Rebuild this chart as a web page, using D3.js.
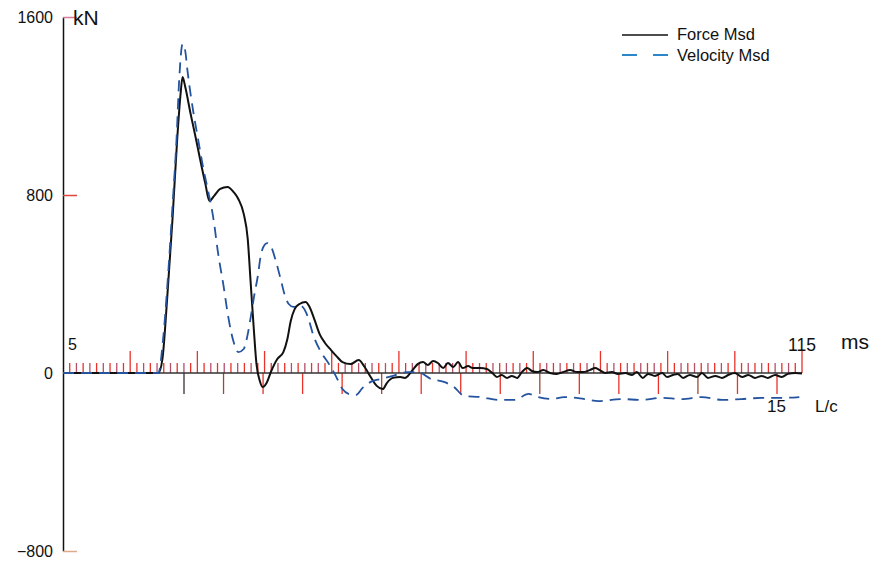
<!DOCTYPE html>
<html>
<head>
<meta charset="utf-8">
<script src="https://cdn.jsdelivr.net/npm/d3@7"></script>
<style>
  body { margin: 0; background: #fff; }
  text { font-family: Arial, "Liberation Sans", sans-serif; fill: #111; }
</style>
</head>
<body>
<svg width="888" height="566"></svg>
<script>
// time (ms) and measured force (kN)
const forceTime = [5, 12, 19.2, 19.8, 20.5, 21.3, 22.0, 22.5, 22.8, 23.2, 24.0, 24.7, 25.4, 26.2, 26.8, 27.5, 28.4, 29.5, 30.4, 31.1, 31.9, 32.5, 32.9, 33.4, 33.8, 34.3, 34.7, 35.3, 36.0, 36.9, 37.8, 38.4, 38.9, 39.5, 40.2, 41.1, 41.7, 42.5, 43.2, 44.0, 44.9, 45.7, 46.6, 47.8, 49.0, 49.9, 50.8, 51.7, 52.6,
  53.2, 54.1, 55.2, 55.9, 56.7, 57.4, 57.8, 58.6, 59.3, 60.1, 60.8, 61.6, 62.3, 63.1, 63.8, 64.5, 65.3, 66.0, 67.1, 68.1, 68.9, 69.6, 70.3, 71.1, 71.8, 72.6, 73.3, 74.1, 74.8, 75.6, 76.5, 77.5, 78.5, 79.4, 80.5, 81.5, 82.4, 83.4, 84.2, 84.9, 85.7, 86.7, 87.6, 88.7, 89.7, 90.4, 91.3, 92.1, 93.1, 94.2, 94.9, 95.8, 96.5, 97.3, 98.3, 99.4, 100.1, 101.0, 102.1, 103.1, 104.0, 105.0, 106.1, 107.0, 108.0, 109.0, 109.9, 111.0, 112.0, 112.9, 114.0, 115];
const forceMsd = [0, 0, 0, 63, 333, 692, 1052, 1254, 1330, 1285, 1164, 1065, 962, 849, 773, 796, 827, 836, 813, 782, 715, 602, 422, 198, 40, -36, -63, -45, 9, 63, 94, 153, 234, 288, 310, 319, 297, 234, 175, 135, 103, 76, 49, 40, 58, 27, -18, -58, -72,
  -45, -22, -18, -22, 0, 27, 40, 49, 36, 54, 45, 22, 45, 27, 49, 22, 31, 22, 22, 18, 0, -18, -9, -22, -13, -22, 4, 22, 9, 4, 13, 0, -4, 4, 13, 4, 4, 13, 22, 13, 0, 4, -4, 0, -9, 4, -22, -4, -13, 0, -18, -9, -4, -22, -9, -18, 0, -22, -13, -22, -9, 0, -18, -9, -22, -13, -22, -9, -18, -4, 0, -2];

// time (ms) and measured velocity (scaled to kN)
const velTime = [5, 12, 19.2, 19.9, 20.7, 21.3, 21.9, 22.3, 22.8, 23.2, 23.5, 24.4, 25.1, 25.9, 26.6, 27.4, 28.1, 28.9, 29.6, 30.4, 31.1, 31.9, 32.5, 32.9, 33.5, 34.0, 34.4, 34.9, 35.4, 36.0, 36.6, 37.4, 38.0, 38.6, 39.3, 40.4, 41.4, 42.3, 43.4, 44.6, 45.6, 46.6, 47.5, 48.6, 49.6, 50.8, 52.3, 54.1, 56.3, 57.8, 59.8, 61.7, 63.2, 64.7, 67.2, 69.8, 72.2, 74.3, 75.7, 77.7, 79.6, 82.6, 84.7, 88.1, 91.1, 94.1, 97.1, 100.1, 103.1, 106.0, 109.0, 112.0, 114.6];
const velocityMsd = [0, 0, 0, 153, 467, 751, 1052, 1321, 1479, 1447, 1366, 1173, 1052, 917, 818, 692, 535, 391, 252, 139, 94, 108, 175, 243, 355, 436, 521, 571, 584, 566, 512, 422, 351, 310, 297, 301, 256, 166, 94, 40, -13, -72, -94, -99, -67, -40, -27, -13, 4, 4, -27, -40, -63, -103, -108, -121, -121, -94, -108, -117, -108, -117, -126, -117, -121, -112, -117, -108, -121, -117, -112, -112, -108];

const yTicks = [1600, 800, 0, -800];
const yTickColors = ["#d67a9a", "#e0443a", null, "#e0aa88"];
const timeDomain = [5, 115];
const lcDomain = [0, 15];

const svg = d3.select("svg");

const x = d3.scaleLinear().domain(timeDomain).range([63, 802]);
const y = d3.scaleLinear().domain([-800, 1600]).range([551, 17]);
const lc = d3.scaleLinear().domain(lcDomain).range([184, 777]);

// y axis
const yAxis = svg.append("g")
  .attr("transform", `translate(${x(5)},0)`)
  .call(d3.axisLeft(y).tickValues(yTicks).tickSizeInner(-14).tickSizeOuter(0).tickPadding(10).tickFormat(d3.format("d")));
yAxis.select(".domain").attr("stroke", "#111").attr("stroke-width", 1.5);
yAxis.selectAll(".tick line")
  .attr("stroke", (d, i) => yTickColors[i] || "none")
  .attr("stroke-width", 1.5);
yAxis.selectAll(".tick text").attr("font-size", 16).style("fill", "#111");

svg.append("text").attr("x", 73).attr("y", 25).attr("font-size", 21).text("kN");

// time ticks (every ms, long every 10 ms)
const msTicks = d3.range(6, 116);
svg.append("g").selectAll("line").data(msTicks).join("line")
  .attr("x1", d => x(d)).attr("x2", d => x(d))
  .attr("y1", y(0))
  .attr("y2", d => (d - 5) % 10 === 0 ? y(0) - 22 : y(0) - 10)
  .attr("stroke", d => (d - 5) % 10 === 0 || d % 2 === 0 ? "#e8322a" : "#b4506a")
  .attr("stroke-width", 1.3);

// L/c ticks
svg.append("g").selectAll("line").data(d3.range(0, 16)).join("line")
  .attr("x1", d => lc(d)).attr("x2", d => lc(d))
  .attr("y1", y(0)).attr("y2", y(0) + 21)
  .attr("stroke", d => d === 0 ? "#3a3030" : (d % 4 === 1 ? "#9a4a3a" : "#e8322a"))
  .attr("stroke-width", 1.3);

// zero line
svg.append("line")
  .attr("x1", x(5)).attr("x2", x(115))
  .attr("y1", y(0)).attr("y2", y(0))
  .attr("stroke", "#333").attr("stroke-width", 1.5);

// axis labels
svg.append("text").attr("x", 68).attr("y", 350).attr("font-size", 16).text(timeDomain[0]);
svg.append("text").attr("x", 788).attr("y", 351).attr("font-size", 17.5).text(timeDomain[1]);
svg.append("text").attr("x", 841).attr("y", 349).attr("font-size", 21).text("ms");
svg.append("text").attr("x", 767).attr("y", 412).attr("font-size", 17).text(lcDomain[1]);
svg.append("text").attr("x", 815).attr("y", 412).attr("font-size", 17).text("L/c");

// curves
const forceData = forceTime.map((t, i) => [t, forceMsd[i]]);
const velData = velTime.map((t, i) => [t, velocityMsd[i]]);

svg.append("path")
  .datum(forceData)
  .attr("fill", "none")
  .attr("stroke", "#111")
  .attr("stroke-width", 2)
  .attr("stroke-linejoin", "round")
  .attr("d", d3.line().x(d => x(d[0])).y(d => y(d[1])).curve(d3.curveMonotoneX));

svg.append("path")
  .datum(velData)
  .attr("fill", "none")
  .attr("stroke", "#24539f")
  .attr("stroke-width", 1.8)
  .attr("stroke-dasharray", "11,7")
  .attr("d", d3.line().x(d => x(d[0])).y(d => y(d[1])).curve(d3.curveMonotoneX));

// legend
const legend = svg.append("g");
legend.append("line").attr("x1", 622).attr("x2", 668).attr("y1", 35).attr("y2", 35)
  .attr("stroke", "#111").attr("stroke-width", 1.5);
legend.append("text").attr("x", 677).attr("y", 40).attr("font-size", 16.5).text("Force Msd");
legend.append("line").attr("x1", 622).attr("x2", 668).attr("y1", 55).attr("y2", 55)
  .attr("stroke", "#2c86cc").attr("stroke-width", 1.8).attr("stroke-dasharray", "15,16");
legend.append("text").attr("x", 677).attr("y", 61).attr("font-size", 16.5).text("Velocity Msd");
</script>
</body>
</html>
